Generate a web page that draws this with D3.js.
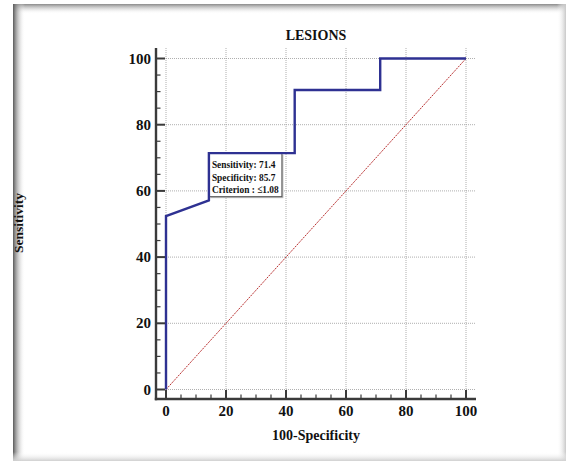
<!DOCTYPE html>
<html><head><meta charset="utf-8">
<script src="https://cdn.jsdelivr.net/npm/d3@7"></script>
<style>html,body{margin:0;padding:0;background:#fff;}svg{display:block;font-family:"Liberation Serif","Times New Roman",serif;}</style>
</head><body>
<svg id="c" width="568" height="463"></svg>
<script>
const rocX = [0, 0, 14.3, 14.3, 42.9, 42.9, 71.4, 71.4, 100];
const rocY = [0, 52.4, 57.1, 71.4, 71.4, 90.5, 90.5, 100, 100];
const refX = [0, 100];
const refY = [0, 100];
const majorTicks = [0, 20, 40, 60, 80, 100];
const minorTicks = d3.range(0, 101, 5);
const title = "LESIONS";
const xLabel = "100-Specificity";
const yLabel = "Sensitivity";
const annot = ["Sensitivity: 71.4", "Specificity: 85.7", "Criterion : \u22641.08"];

const svg = d3.select("#c");
const defs = svg.append("defs");
function grad(id, x1, y1, x2, y2, c) {
  const g = defs.append("linearGradient").attr("id", id)
    .attr("x1", x1).attr("y1", y1).attr("x2", x2).attr("y2", y2);
  g.append("stop").attr("offset", "0%").attr("stop-color", c);
  g.append("stop").attr("offset", "100%").attr("stop-color", "#fff").attr("stop-opacity", 0);
}
grad("gl", "0", "0", "1", "0", "#5a5a5a");
grad("gt", "0", "0", "0", "1", "#8a8a8a");
grad("gr", "1", "0", "0", "0", "#c8c8c8");
grad("gb", "0", "1", "0", "0", "#d0d0d0");

// frame
const F = {x0: 13, y0: 4, x1: 566, y1: 461};
svg.append("rect").attr("x", F.x0).attr("y", F.y0).attr("width", F.x1 - F.x0).attr("height", F.y1 - F.y0).attr("fill", "#fff");
svg.append("rect").attr("x", F.x0).attr("y", F.y0).attr("width", F.x1 - F.x0).attr("height", 10).attr("fill", "url(#gt)");
svg.append("rect").attr("x", F.x0).attr("y", F.y0).attr("width", 12).attr("height", F.y1 - F.y0).attr("fill", "url(#gl)");
svg.append("rect").attr("x", F.x1 - 9).attr("y", F.y0).attr("width", 9).attr("height", F.y1 - F.y0).attr("fill", "url(#gr)");
svg.append("rect").attr("x", F.x0).attr("y", F.y1 - 9).attr("width", F.x1 - F.x0).attr("height", 9).attr("fill", "url(#gb)");

const x = d3.scaleLinear().domain([0, 100]).range([166, 466]);
const y = d3.scaleLinear().domain([0, 100]).range([389.5, 58.5]);
const P = {l: 156, r: 476, t: 48, b: 399};

// grid
const grid = svg.append("g").attr("stroke", "#9a9a9a").attr("stroke-width", 0.8).attr("stroke-dasharray", "1,1").attr("fill", "none");
majorTicks.forEach(v => {
  grid.append("line").attr("x1", x(v)).attr("x2", x(v)).attr("y1", P.t).attr("y2", P.b);
  grid.append("line").attr("x1", P.l).attr("x2", P.r).attr("y1", y(v)).attr("y2", y(v));
});

// reference diagonal
svg.append("path").datum(refX.map((v, i) => [v, refY[i]]))
  .attr("d", d3.line().x(d => x(d[0])).y(d => y(d[1])))
  .attr("stroke", "#b01818").attr("stroke-width", 0.9).attr("stroke-dasharray", "2,1").attr("fill", "none");

// annotation box (anchored at the ROC corner)
const bx = x(14.3), by = y(71.4), bw = 73, bh = 43.5;
svg.append("rect").attr("x", bx + 1.5).attr("y", by + 1.5).attr("width", bw).attr("height", bh).attr("fill", "#bbb");
svg.append("rect").attr("x", bx).attr("y", by).attr("width", bw).attr("height", bh).attr("fill", "#fff").attr("stroke", "#555").attr("stroke-width", 1);
annot.forEach((t, i) => {
  svg.append("text").attr("transform", `translate(${bx + 3},${by + 15 + i * 12.5}) scale(0.83,1)`)
    .attr("font-weight", "bold").attr("font-size", 11.3).attr("fill", "#111").text(t);
});

// ROC curve
svg.append("path").datum(rocX.map((v, i) => [v, rocY[i]]))
  .attr("d", d3.line().x(d => x(d[0])).y(d => y(d[1])))
  .attr("stroke", "#2e3192").attr("stroke-width", 2.4).attr("fill", "none").attr("stroke-linejoin", "miter");

// axes
const axisColor = "#3a3a3a";
const ax = svg.append("g").attr("stroke", axisColor);
ax.append("line").attr("x1", P.l).attr("x2", P.l).attr("y1", P.t).attr("y2", P.b + 1.2).attr("stroke-width", 2.4);
ax.append("line").attr("x1", P.l - 1.2).attr("x2", P.r).attr("y1", P.b).attr("y2", P.b).attr("stroke-width", 2.4);
minorTicks.forEach(v => {
  const major = v % 20 === 0;
  const len = major ? 9 : 4.5;
  ax.append("line").attr("x1", x(v)).attr("x2", x(v)).attr("y1", P.b).attr("y2", P.b - len).attr("stroke-width", major ? 2 : 1.2);
  ax.append("line").attr("x1", P.l).attr("x2", P.l + len).attr("y1", y(v)).attr("y2", y(v)).attr("stroke-width", major ? 2 : 1.2);
});

// tick labels
const tl = svg.append("g").attr("font-weight", "bold").attr("font-size", 15).attr("fill", "#111");
majorTicks.forEach(v => {
  tl.append("text").attr("x", x(v)).attr("y", 416).attr("text-anchor", "middle").text(v);
  tl.append("text").attr("x", 151).attr("y", y(v) + 5).attr("text-anchor", "end").text(v);
});

// titles
svg.append("text").attr("x", 316).attr("y", 40).attr("text-anchor", "middle").attr("font-weight", "bold").attr("font-size", 14).attr("fill", "#111").text(title);
svg.append("text").attr("x", 316).attr("y", 440).attr("text-anchor", "middle").attr("font-weight", "bold").attr("font-size", 14).attr("fill", "#111").text(xLabel);
svg.append("text").attr("transform", "translate(23,223) rotate(-90)").attr("text-anchor", "middle").attr("font-weight", "bold").attr("font-size", 13.5).attr("fill", "#111").text(yLabel);
</script>
</body></html>
